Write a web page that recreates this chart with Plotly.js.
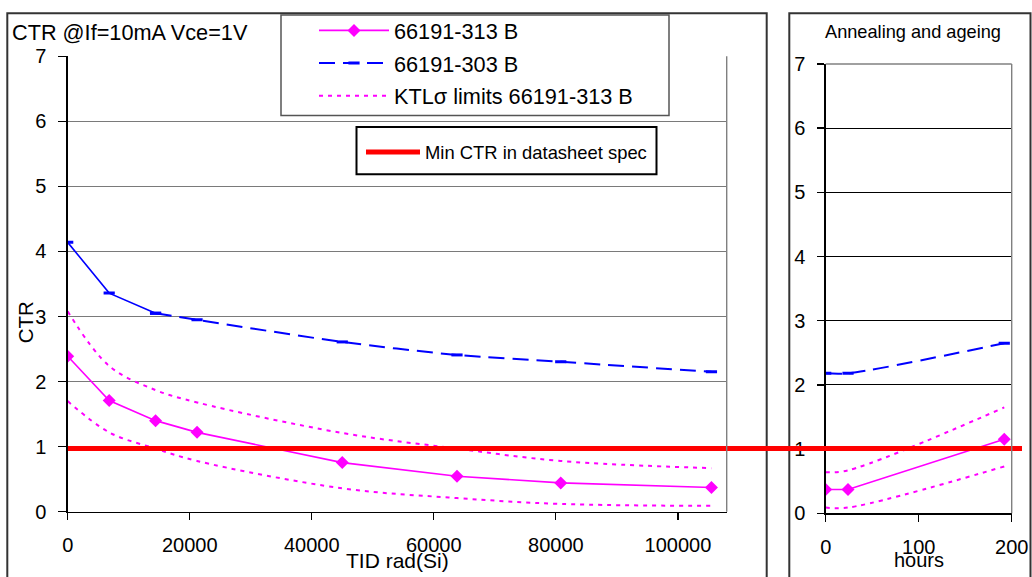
<!DOCTYPE html>
<html>
<head>
<meta charset="utf-8">
<script src="https://cdn.plot.ly/plotly-3.0.1.min.js"></script>
<style>
  html, body { margin: 0; padding: 0; background: #fff; }
  #chart { width: 1032px; height: 577px; }
</style>
</head>
<body>
<div id="chart"></div>
<script>
// Total ionising dose steps, rad(Si)
const doseSteps = [0, 6800, 14400, 21200, 45000, 63800, 80800, 105500];
// CTR of the two lots after each dose step
const ctr313 = [2.39, 1.71, 1.40, 1.22, 0.755, 0.545, 0.443, 0.372];
const ctr303 = [4.14, 3.36, 3.05, 2.95, 2.61, 2.41, 2.305, 2.15];
// KTL sigma limits for lot 66191-313 B
const ktlUpper313 = [3.08, 2.24, 1.87, 1.68, 1.21, 0.97, 0.78, 0.67];
const ktlLower313 = [1.70, 1.22, 0.97, 0.78, 0.36, 0.21, 0.12, 0.09];

// Annealing and ageing after irradiation
const annealHours = [0, 24, 192];
const anneal313 = [0.37, 0.37, 1.155];
const anneal303 = [2.18, 2.18, 2.65];
const annealKtlUpper = [0.64, 0.67, 1.65];
const annealKtlLower = [0.09, 0.09, 0.73];

// Datasheet minimum
const minCtrSpec = 0.97;

// Axis ticks
const ctrTicks = [0, 1, 2, 3, 4, 5, 6, 7];
const doseTicks = [0, 20000, 40000, 60000, 80000, 100000];
const hourTicks = [0, 100, 200];

const FONT = 'Liberation Sans, Arial, Helvetica, sans-serif';
const PINK = '#FF00FF', BLUE = '#0000FF', RED = '#FF0000';

// page geometry helpers (pixels -> paper fractions)
const M = { l: 60, r: 10, t: 50, b: 60 };
const W = 1032, H = 577;
const PW = W - M.l - M.r, PH = H - M.t - M.b;
const px = p => (p - M.l) / PW;
const py = p => (H - M.b - p) / PH;

const solidCount = 3; // first dose steps of 66191-303 B are joined with a solid line

const traces = [
  {
    x: doseSteps, y: ctr313, name: '66191-313 B', xaxis: 'x', yaxis: 'y',
    mode: 'lines+markers', legend: 'legend', legendgroup: 'a',
    line: { color: PINK, width: 1.6 },
    marker: { symbol: 'diamond', size: 10, color: PINK }
  },
  {
    x: doseSteps.slice(solidCount - 1), y: ctr303.slice(solidCount - 1),
    name: '66191-303 B', xaxis: 'x', yaxis: 'y',
    mode: 'lines+markers', legend: 'legend', legendgroup: 'b',
    line: { color: BLUE, width: 2, dash: '16px,8px', shape: 'spline', smoothing: 0.8 },
    marker: { symbol: 'line-ew', size: 8, color: BLUE, line: { color: BLUE, width: 3 } }
  },
  {
    x: doseSteps.slice(0, solidCount), y: ctr303.slice(0, solidCount),
    xaxis: 'x', yaxis: 'y', showlegend: false, legendgroup: 'b',
    mode: 'lines+markers',
    line: { color: BLUE, width: 1.6 },
    marker: { symbol: 'line-ew', size: 8, color: BLUE, line: { color: BLUE, width: 3 } }
  },
  {
    x: doseSteps, y: ktlUpper313, name: 'KTLσ limits 66191-313 B', xaxis: 'x', yaxis: 'y',
    mode: 'lines', legend: 'legend', legendgroup: 'c',
    line: { color: PINK, width: 2, dash: '4px,5px', shape: 'spline', smoothing: 1 }
  },
  {
    x: doseSteps, y: ktlLower313, xaxis: 'x', yaxis: 'y', showlegend: false, legendgroup: 'c',
    mode: 'lines',
    line: { color: PINK, width: 2, dash: '4px,5px', shape: 'spline', smoothing: 1 }
  },
  // annealing panel
  {
    x: annealHours, y: anneal303, xaxis: 'x2', yaxis: 'y2', showlegend: false,
    mode: 'lines+markers',
    line: { color: BLUE, width: 2, dash: '16px,8px', shape: 'spline', smoothing: 0.8 },
    marker: { symbol: 'line-ew', size: 8, color: BLUE, line: { color: BLUE, width: 3 } }
  },
  {
    x: annealHours, y: annealKtlUpper, xaxis: 'x2', yaxis: 'y2', showlegend: false,
    mode: 'lines',
    line: { color: PINK, width: 2, dash: '4px,5px', shape: 'spline', smoothing: 1 }
  },
  {
    x: annealHours, y: annealKtlLower, xaxis: 'x2', yaxis: 'y2', showlegend: false,
    mode: 'lines',
    line: { color: PINK, width: 2, dash: '4px,5px', shape: 'spline', smoothing: 1 }
  },
  {
    x: annealHours, y: anneal313, xaxis: 'x2', yaxis: 'y2', showlegend: false,
    mode: 'lines+markers',
    line: { color: PINK, width: 1.6 },
    marker: { symbol: 'diamond', size: 10, color: PINK }
  },
  // datasheet minimum across both panels
  {
    x: [0, 1], y: [minCtrSpec, minCtrSpec], xaxis: 'x3', yaxis: 'y3',
    name: 'Min CTR in datasheet spec', legend: 'legend2',
    mode: 'lines', line: { color: RED, width: 5 }
  }
];

const tickFont = { family: FONT, size: 20, color: '#000' };

const baseX = {
  ticks: 'outside', ticklen: 7, tickwidth: 1.3, tickcolor: '#000',
  showline: true, linecolor: '#000', linewidth: 1.3,
  showgrid: false, zeroline: false, tickfont: tickFont,
  ticklabelstandoff: 8, fixedrange: true
};
const baseY = {
  range: [0, 7], tickvals: ctrTicks, ticktext: ctrTicks.map(String),
  ticks: 'outside', ticklen: 8, tickwidth: 1.3, tickcolor: '#000',
  showline: true, linecolor: '#000', linewidth: 1.3,
  showgrid: true, zeroline: false, tickfont: tickFont,
  ticklabelstandoff: 8, fixedrange: true
};

const layout = {
  width: W, height: H,
  margin: M,
  paper_bgcolor: '#fff', plot_bgcolor: 'rgba(0,0,0,0)',
  font: { family: FONT, color: '#000' },
  showlegend: true,
  xaxis: Object.assign({}, baseX, {
    domain: [px(67.7), px(726.7)], range: [0, 108000], anchor: 'y',
    tickvals: doseTicks, ticktext: doseTicks.map(String)
  }),
  yaxis: Object.assign({}, baseY, {
    domain: [py(511.7), py(53.3)], anchor: 'x',
    gridcolor: '#7a7a7a', gridwidth: 1.4
  }),
  xaxis2: Object.assign({}, baseX, {
    domain: [px(825.7), px(1011.7)], range: [0, 200], anchor: 'y2',
    tickvals: hourTicks, ticktext: hourTicks.map(String)
  }),
  yaxis2: Object.assign({}, baseY, {
    domain: [py(513.3), py(61)], anchor: 'x2',
    gridcolor: '#000', gridwidth: 1, ticklabelstandoff: 8, ticklen: 7
  }),
  xaxis3: { domain: [px(67.7), 1], range: [0, 1], anchor: 'y3', visible: false, fixedrange: true },
  yaxis3: { domain: [py(511.7), py(53.3)], range: [0, 7], anchor: 'x3', visible: false, fixedrange: true },
  legend: {
    x: px(314), xanchor: 'left', y: py(6.5), yanchor: 'top',
    bgcolor: 'rgba(0,0,0,0)', borderwidth: 0,
    font: { family: FONT, size: 21.7, color: '#000' },
    itemwidth: 70, traceorder: 'grouped', tracegroupgap: 1.5
  },
  legend2: {
    x: px(361), xanchor: 'left', y: py(131), yanchor: 'top',
    bgcolor: 'rgba(0,0,0,0)', borderwidth: 0,
    font: { family: FONT, size: 18.4, color: '#000' },
    itemwidth: 54
  },
  shapes: [
    // panel frames
    { type: 'rect', xref: 'paper', yref: 'paper', layer: 'below',
      x0: px(7.3), x1: px(766.7), y0: py(600), y1: py(10),
      line: { color: '#333', width: 2 }, fillcolor: 'rgba(0,0,0,0)' },
    { type: 'rect', xref: 'paper', yref: 'paper', layer: 'below',
      x0: px(789.3), x1: px(1030.5), y0: py(600), y1: py(10),
      line: { color: '#333', width: 2 }, fillcolor: 'rgba(0,0,0,0)' },
    // plot-area borders
    { type: 'line', xref: 'paper', yref: 'paper', layer: 'above',
      x0: px(726.7), x1: px(726.7), y0: py(511.7), y1: py(53.3),
      line: { color: '#808080', width: 1.4 } },
    { type: 'line', xref: 'paper', yref: 'paper', layer: 'above',
      x0: px(1011.7), x1: px(1011.7), y0: py(513.3), y1: py(61),
      line: { color: '#808080', width: 1.4 } },
    { type: 'line', xref: 'paper', yref: 'paper', layer: 'above',
      x0: px(825.7), x1: px(1011.7), y0: py(61), y1: py(61),
      line: { color: '#808080', width: 1.4 } },
    // legend boxes
    { type: 'rect', xref: 'paper', yref: 'paper', layer: 'above',
      x0: px(281), x1: px(669), y0: py(113), y1: py(11.7),
      line: { color: '#555', width: 1.5 }, fillcolor: '#fff' },
    { type: 'rect', xref: 'paper', yref: 'paper', layer: 'above',
      x0: px(356.5), x1: px(656.5), y0: py(172), y1: py(124.5),
      line: { color: '#000', width: 2 }, fillcolor: '#fff' }
  ],
  annotations: [
    { text: 'CTR @If=10mA Vce=1V', xref: 'paper', yref: 'paper',
      x: px(10), y: py(29), xanchor: 'left', yanchor: 'middle', showarrow: false,
      font: { family: FONT, size: 21.7, color: '#000' } },
    { text: 'Annealing and ageing', xref: 'paper', yref: 'paper',
      x: px(913), y: py(29), xanchor: 'center', yanchor: 'middle', showarrow: false,
      font: { family: FONT, size: 18.2, color: '#000' } },
    { text: 'CTR', xref: 'paper', yref: 'paper', textangle: -90,
      x: px(25), y: py(321), xanchor: 'center', yanchor: 'middle', showarrow: false,
      font: { family: FONT, size: 20.5, color: '#000' } },
    { text: 'TID rad(Si)', xref: 'paper', yref: 'paper',
      x: px(397.5), y: py(561), xanchor: 'center', yanchor: 'middle', showarrow: false,
      font: { family: FONT, size: 21, color: '#000' } },
    { text: 'hours', xref: 'paper', yref: 'paper',
      x: px(918.5), y: py(560), xanchor: 'center', yanchor: 'middle', showarrow: false,
      font: { family: FONT, size: 20, color: '#000' } }
  ]
};

Plotly.newPlot('chart', traces, layout, { displayModeBar: false, staticPlot: true });
</script>
</body>
</html>
